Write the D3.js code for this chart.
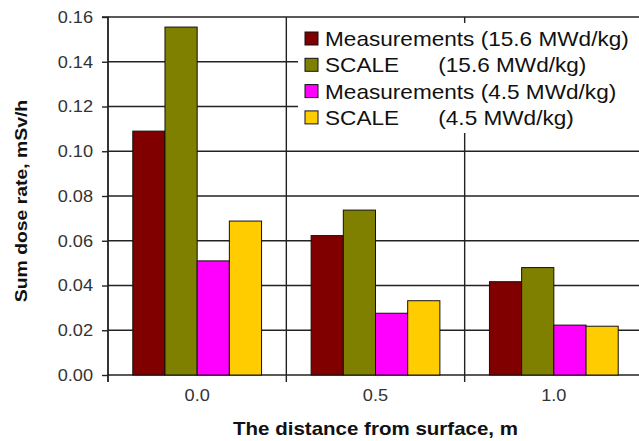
<!DOCTYPE html>
<html><head><meta charset="utf-8">
<script src="https://cdn.jsdelivr.net/npm/d3@7"></script>
<style>body{margin:0;background:#fff}svg{display:block;font-family:"Liberation Sans",Arial,sans-serif}</style>
</head><body><svg id="c" width="639" height="441"></svg>
<script>
const categories = ["0.0", "0.5", "1.0"];
const seriesNames = ["Measurements (15.6 MWd/kg)", "SCALE (15.6 MWd/kg)", "Measurements (4.5 MWd/kg)", "SCALE (4.5 MWd/kg)"];
const meas156 = [0.109, 0.0623, 0.0417];
const scale156 = [0.1555, 0.0737, 0.048];
const meas45 = [0.051, 0.0276, 0.0223];
const scale45 = [0.0688, 0.0332, 0.0218];
const yTicks = [0, 0.02, 0.04, 0.06, 0.08, 0.10, 0.12, 0.14, 0.16];
const colors = ["#800000", "#808000", "#ff00ff", "#ffcc00"];

const series = [meas156, scale156, meas45, scale45];
const svg = d3.select("#c");
const L = 108, R = 643, T = 17, B = 375;
const x = d3.scaleBand().domain(categories).range([L, R]).paddingInner(0).paddingOuter(0);
const xi = d3.scaleBand().domain(d3.range(series.length)).range([0, x.bandwidth()]).paddingOuter(0.77).paddingInner(0);
const y = d3.scaleLinear().domain([0, 0.16]).range([B, T]);

const g = svg.append("g");
g.selectAll(".hg").data(yTicks).join("line")
  .attr("x1", L).attr("x2", R).attr("y1", d => y(d)).attr("y2", d => y(d))
  .attr("stroke", "#222").attr("stroke-width", 1.4);
const seps = categories.map(c => x(c)).concat([R]);
g.selectAll(".vg").data(seps).join("line")
  .attr("x1", d => d).attr("x2", d => d).attr("y1", T).attr("y2", B + 7)
  .attr("stroke", "#222").attr("stroke-width", 1.4);

categories.forEach((c, ci) => {
  series.forEach((s, si) => {
    g.append("rect")
      .attr("x", x(c) + xi(si)).attr("width", xi.bandwidth())
      .attr("y", y(s[ci])).attr("height", y(0) - y(s[ci]))
      .attr("fill", colors[si]).attr("stroke", "#111").attr("stroke-width", 1);
  });
});

const yAxis = d3.axisLeft(y).tickValues(yTicks).tickFormat(d3.format(".2f")).tickSize(6).tickPadding(8);
const ya = svg.append("g").attr("transform", `translate(${L},0)`).call(yAxis);
ya.select(".domain").attr("stroke", "#222").attr("stroke-width", 1.4).attr("d", `M-6,${T}H0V${B + 7}`);
ya.selectAll(".tick line").attr("stroke", "#222").attr("stroke-width", 1.4);
ya.selectAll("text").attr("font-size", 17).attr("fill", "#333").attr("font-family", "Liberation Sans, Arial, sans-serif")
  .attr("transform", "scale(1.07,1)");

const xa = svg.append("g").attr("transform", `translate(0,${B})`).call(d3.axisBottom(x).tickSize(0).tickPadding(14));
xa.select(".domain").remove();
xa.selectAll(".tick text").attr("font-size", 17).attr("fill", "#333").attr("font-family", "Liberation Sans, Arial, sans-serif")
  .attr("transform", "scale(1.07,1)");

svg.append("text").attr("transform", `translate(${(L + R) / 2},435) scale(1.14,1)`).attr("text-anchor", "middle")
  .attr("font-weight", "bold").attr("font-size", 18).attr("fill", "#111").text("The distance from surface, m");
svg.append("text").attr("transform", `translate(27,${(T + B) / 2 + 5}) rotate(-90) scale(1.14,1)`).attr("text-anchor", "middle")
  .attr("font-weight", "bold").attr("font-size", 17).attr("fill", "#111").text("Sum dose rate, mSv/h");

const lg = svg.append("g");
lg.append("rect").attr("x", 298).attr("y", 23).attr("width", 345).attr("height", 110).attr("fill", "#fff");
const parts = seriesNames.map(n => { const k = n.indexOf("("); return [n.slice(0, k).trim(), n.slice(k)]; });
const sx = 1.13;
parts.forEach((p, i) => {
  const yy = 39 + i * 26.3;
  lg.append("rect").attr("x", 305).attr("y", yy - 7).attr("width", 13).attr("height", 13)
    .attr("fill", colors[i]).attr("stroke", "#111").attr("stroke-width", 1);
  const t = lg.append("text").attr("transform", `translate(325,${yy + 7}) scale(${sx},1)`)
    .attr("font-size", 20).attr("fill", "#111");
  t.append("tspan").text(p[0]);
  if (p[0] === "SCALE") t.append("tspan").attr("x", (432 - 325) / sx).text(" " + p[1]);
  else t.append("tspan").text(" " + p[1]);
});
</script></body></html>
